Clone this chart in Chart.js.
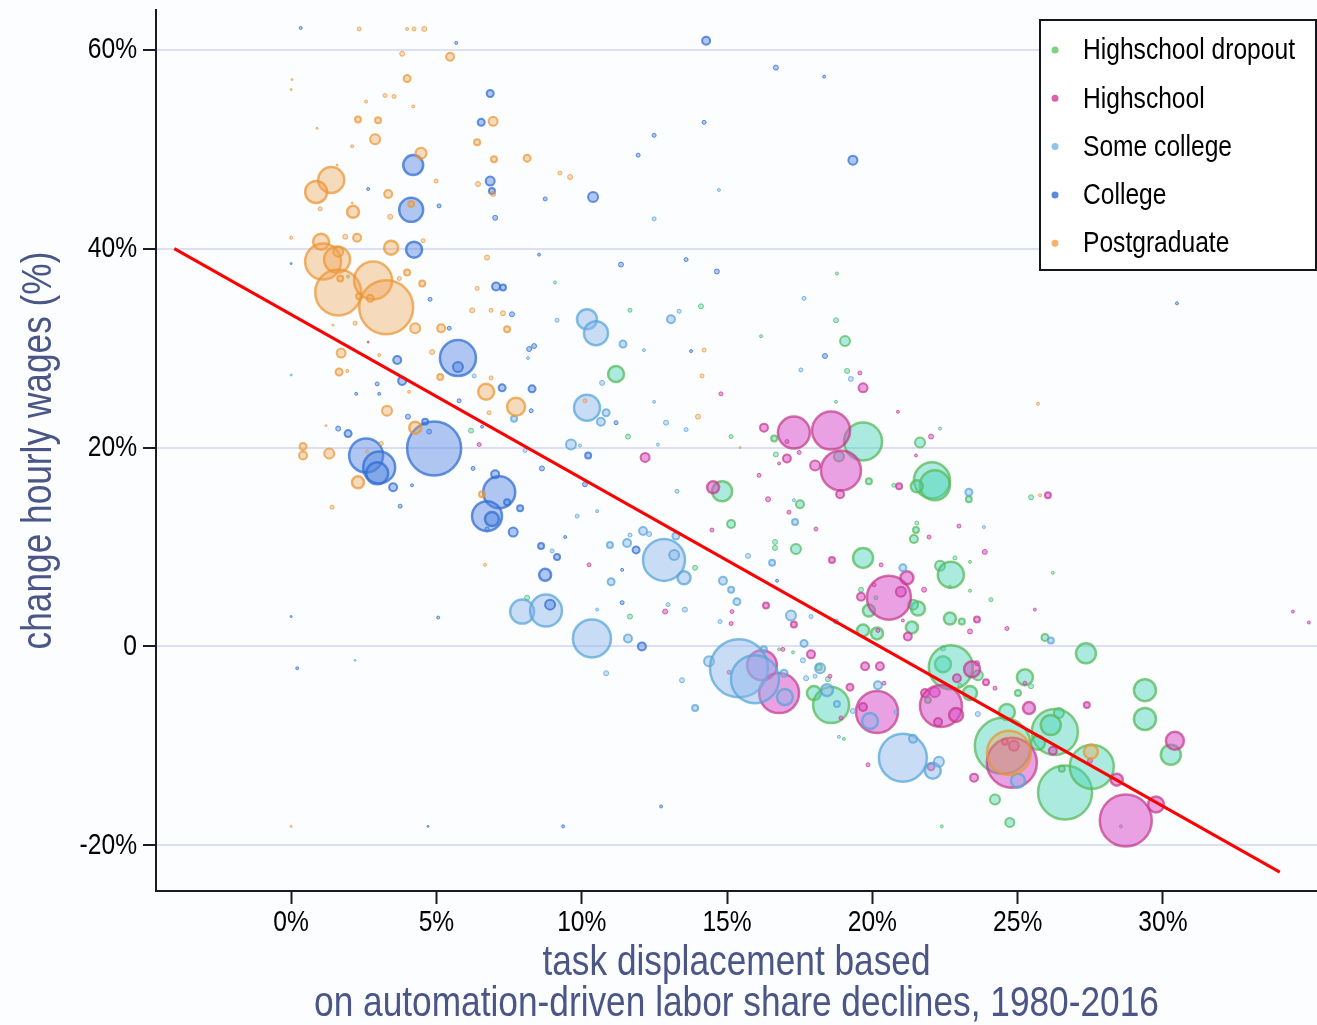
<!DOCTYPE html>
<html>
<head>
<meta charset="utf-8">
<script src="https://cdn.jsdelivr.net/npm/chart.js@4.4.1/dist/chart.umd.min.js"></script>
<style>
  html, body { margin: 0; padding: 0; background: #fbfdff; }
  #wrap { width: 1317px; height: 1025px; position: relative; }
</style>
</head>
<body>
<div id="wrap"><canvas id="c"></canvas></div>
<script>
// ---- tick labels ----
const xTickValues = [0, 5, 10, 15, 20, 25, 30];
const xTickLabels = ['0%', '5%', '10%', '15%', '20%', '25%', '30%'];
const yTickValues = [-20, 0, 20, 40, 60];
const yTickLabels = ['-20%', '0', '20%', '40%', '60%'];

const seriesNames = ['Highschool dropout', 'Highschool', 'Some college', 'College', 'Postgraduate'];

// ---- series values: [x (%), y (%), bubble radius] ----
const dropout = [
 [1.96,37.2,1.5],[9.08,36.6,1.5],[18.78,37.5,1.5],[11.66,33.8,2],[14.10,34.2,2.5],[18.75,32.8,2.5],
 [16.17,31.2,1.5],[19.06,30.7,5],[11.18,27.4,8],[19.13,27.7,2.5],[18.75,24.6,1.5],[6.19,21.7,2.5],
 [11.59,21.1,2.5],[19.68,20.6,19],[16.62,20.9,3],[15.14,21.1,2],[16.68,19.3,2.5],[18.85,19.1,5],
 [19.88,16.6,3],[14.83,15.6,10],[17.51,14.3,4],[15.14,12.3,4],[13.90,7.9,2.5],[16.65,10.5,2.5],
 [16.65,9.9,2.5],[17.37,9.8,5],[19.68,8.9,10],[8.12,4.9,2.5],[11.66,3.0,2.5],[19.61,5.7,2.5],
 [19.88,3.6,6],[19.68,1.6,6],[20.16,1.3,6],[20.12,4.9,2],[21.64,20.5,5],[22.33,21.9,1.5],
 [20.74,16.2,2],[22.05,16.7,18],[22.15,16.2,15],[21.53,16.1,6],[23.32,14.8,3],[25.46,15.0,2.5],
 [21.53,12.4,2],[21.50,11.7,3],[21.43,10.8,4],[26.21,7.4,1.5],[22.33,8.1,5],[22.70,7.2,13],
 [22.84,8.9,2],[23.36,8.5,1.5],[24.08,4.7,2],[22.67,6.0,1.5],[23.36,5.6,1.5],[21.57,3.8,7],
 [21.40,4.2,5],[21.36,1.9,6],[22.67,2.8,6],[23.08,2.5,3],[25.94,0.9,3.5],[27.35,-0.7,10],
 [16.79,-0.3,1.5],[17.27,-0.6,1.5],[18.16,-2.1,3],[18.47,-3.3,2.5],[17.99,-4.7,7],[18.58,-5.9,18],
 [19.02,-9.3,1.5],[22.43,-1.8,8],[22.43,-0.2,2.5],[22.70,-2.1,22],[21.91,-5.4,3],[23.36,-4.7,7],
 [23.63,-2.9,5],[23.01,-3.9,2],[24.63,-6.6,8],[25.01,-4.7,3],[25.25,-3.1,8],[25.46,-4.0,2.5],
 [24.49,-10.0,28],[24.22,-15.4,5],[24.73,-17.7,4.5],[22.39,-18.1,1.5],[26.28,-8.6,23],[26.14,-7.9,10],
 [26.42,-6.7,5],[25.70,-9.7,7],[26.63,-14.7,27],[26.52,-12.3,3],[27.55,-12.1,22],[28.55,-18.1,1.5],
 [29.38,-4.4,11],[29.38,-7.3,11],[30.27,-10.9,10]
];
const highschool = [
 [2.65,30.6,1],[12.18,19.0,4.5],[14.79,25.4,2],[19.68,26.0,4.5],[19.57,27.5,2],[16.27,22.0,4],
 [17.30,21.5,16],[18.58,21.7,19],[17.06,20.6,2],[17.06,18.9,4],[17.48,19.5,2],[16.79,18.4,1.5],
 [18.03,18.2,5],[18.92,17.7,20],[18.89,15.3,4],[16.10,17.2,2],[16.41,14.8,2.5],[14.52,16.0,6],
 [17.13,13.5,2],[18.06,11.8,2],[14.48,11.7,2],[22.02,21.1,2.5],[21.50,19.2,1.5],[20.92,16.1,3],
 [20.88,23.6,1.5],[26.04,15.2,3],[22.98,12.1,2],[21.95,11.0,2],[23.87,9.5,2.5],[18.61,8.7,3],
 [20.30,8.2,2],[21.78,5.7,2.5],[20.57,4.9,22],[21.19,6.9,6.5],[20.98,5.5,5],[20.06,6.2,2],
 [19.61,5.0,4],[20.19,1.6,2],[21.05,2.6,1.5],[21.22,1.0,4],[23.60,2.7,3],[23.36,1.5,2.5],
 [24.63,1.8,2],[25.59,3.7,1.5],[34.47,3.5,1.5],[35.02,2.4,1.5],[10.25,8.2,2],[6.47,20.3,2],
 [16.34,4.1,3],[15.17,3.5,2],[15.14,2.3,2],[12.87,3.5,2.5],[17.30,2.2,3],[15.07,-2.6,2],
 [16.20,-1.9,15],[16.79,-4.7,20],[17.89,-0.8,4],[16.92,-0.3,2],[18.54,-3.0,2],[18.92,-7.2,2],
 [19.23,-4.1,3.5],[19.75,-2.0,4],[20.26,-2.0,4],[20.16,-6.6,21],[19.68,-6.1,4],[20.40,-3.7,2],
 [19.85,-11.9,2],[22.02,-12.1,3.5],[21.81,-4.7,4],[22.15,-4.6,5],[23.43,-2.3,8],[23.60,-1.7,2.5],
 [22.91,-3.2,4],[22.36,-6.0,21],[22.88,-6.9,7],[22.26,-7.6,4],[23.91,-3.6,3],[24.22,-4.2,2],
 [25.39,-6.2,6],[25.25,-3.7,2],[24.80,-11.7,25],[24.87,-10.0,5],[24.56,-9.6,3],[23.50,-13.2,4],
 [26.21,-10.5,4],[27.49,-11.5,2.5],[28.41,-13.4,6],[28.72,-17.5,26],[29.76,-15.9,8],[30.41,-9.5,9],
 [27.38,-5.9,3]
];
const someCollege = [
 [0,27.3,1],[2.20,-1.4,1],[14.72,45.9,1.5],[12.49,43.0,2],[17.65,35.0,2],[13.35,33.7,2],
 [13.07,32.9,4],[9.15,32.8,2],[10.18,32.9,10],[10.49,31.5,12],[8.15,29.0,1.5],[11.42,30.4,3.5],
 [12.14,29.8,1.5],[6.30,27.2,2],[17.54,27.8,2],[19.26,26.9,2.5],[10.70,26.5,2.5],[10.18,24.0,13],
 [10.84,23.5,3.5],[10.66,22.6,4],[7.67,22.9,3],[12.49,24.6,1.5],[12.90,22.5,2.5],[13.59,21.8,2],
 [12.62,20.3,1.5],[8.05,19.7,2],[9.63,20.3,5],[9.94,20.2,1.5],[13.28,15.6,2],[17.30,14.7,1.5],
 [17.34,12.5,3],[9.84,13.1,2],[10.53,13.6,1.5],[12.11,11.6,4],[12.32,11.3,2.5],[11.66,11.2,2],
 [11.56,10.4,4],[10.97,10.2,3],[12.83,8.7,21],[13.18,9.2,5],[13.52,6.9,6.5],[13.24,11.1,3.5],
 [8.98,9.6,2],[11.01,6.5,3.5],[14.86,6.6,4],[15.14,5.7,3],[15.34,4.5,3.5],[15.72,9.1,2.5],
 [16.55,8.4,3],[7.95,3.5,12],[8.77,3.6,16],[10.35,0.8,19],[12.97,4.2,2],[13.55,3.7,2.5],
 [10.53,3.7,1.5],[11.59,0.8,4],[14.76,2.5,2],[17.20,3.1,5],[17.89,3.0,2],[18.75,2.5,2.5],
 [17.65,0.3,3.5],[10.84,-2.7,2.5],[13.45,-3.4,2.5],[13.90,-6.2,3],[14.38,-1.5,5],[15.41,-2.2,29],
 [15.96,-3.3,24],[16.99,-5.1,8],[16.27,-0.3,3],[16.96,-2.7,3.5],[17.61,-1.4,2.5],[18.20,-2.2,5],
 [17.72,-3.2,2.5],[18.03,-3.0,2],[18.44,-4.4,6],[18.78,-5.8,3],[18.85,-9.1,1.5],[19.92,-7.5,8],
 [20.19,-3.9,4],[19.33,-6.5,2.5],[20.81,-6.6,2],[21.05,-11.2,24],[21.40,-9.3,4],[22.08,-12.5,8],
 [22.29,-11.6,5],[21.05,7.9,3.5],[23.32,15.5,3.5],[23.84,12.0,1.5],[23.63,-6.8,2.5],[25.01,-13.5,7],
 [26.14,0.6,3]
];
const college = [
 [0.33,62.2,1.5],[4.20,48.4,10],[2.65,46.0,1.5],[4.13,43.9,12],[5.09,44.3,2],[4.23,39.9,8],
 [0,38.5,1],[4.78,34.9,2],[5.44,32.0,2],[3.65,28.8,4],[3.82,26.7,4],[2.96,26.4,2],
 [2.24,25.4,1.5],[3.03,25.4,1.5],[4.02,23.1,2.5],[1.62,21.9,2.5],[1.96,21.4,3.5],[4.61,22.6,3],
 [4.75,21.6,2.5],[2.58,19.2,17],[3.03,18.0,16],[2.96,17.4,11],[3.51,16.0,4],[4.16,16.2,1.5],
 [3.75,14.1,2],[4.92,19.9,27],[0,3.0,1],[5.06,2.9,1.5],[0.21,-2.2,1.5],[4.71,-18.1,1],
 [5.68,60.7,1.5],[14.28,60.9,4],[16.68,58.2,2.5],[18.34,57.3,1.5],[6.85,55.6,3.5],[6.54,52.7,3.5],
 [14.21,52.7,2],[12.49,51.4,2],[11.94,49.4,2],[19.33,48.9,4.5],[6.85,46.8,4.5],[6.91,45.8,3],
 [8.74,45.0,2],[10.39,45.2,5],[7.02,43.1,2.5],[8.53,39.4,1.5],[13.59,38.9,2],[11.35,38.4,2.5],
 [14.65,37.7,2.5],[7.05,36.2,4],[7.29,36.1,3],[7.60,33.4,2.5],[8.19,29.9,2.5],[8.36,30.2,2.5],
 [13.76,29.7,1.5],[18.37,29.2,2.5],[5.74,29.0,18],[5.74,28.1,5],[7.26,26.0,3.5],[8.29,25.9,3.5],
 [8.26,23.7,2],[5.78,24.7,2],[11.18,22.5,2],[6.57,22.1,1.5],[10.22,19.2,3],[6.26,17.9,2],
 [8.63,17.9,2.5],[7.02,17.3,4],[7.16,15.5,16],[6.74,13.1,15],[6.91,12.8,7],[7.88,13.9,3],
 [7.64,11.5,4.5],[7.43,14.5,3],[6.74,11.8,2],[10.11,16.3,2.5],[9.43,11.0,1.5],[11.87,9.7,3.5],
 [8.60,10.1,3],[9.15,9.0,3],[8.74,7.2,6],[11.39,7.7,1.5],[16.72,6.6,1.5],[8.91,4.2,5],
 [11.39,4.4,2],[12.07,0,4],[12.73,-16.1,1.5],[9.36,-18.1,1.5],[30.48,34.5,1.5]
];
const postgraduate = [
 [2.34,62.1,2],[3.99,62.1,1.5],[4.23,62.1,2],[4.58,62.1,2.5],[3.82,59.6,2.5],[3.99,57.1,3.5],
 [0.03,57.0,1],[0,56.0,1],[2.58,54.8,1.5],[3.23,55.4,2],[3.54,55.3,2],[4.20,54.3,1.5],
 [2.30,53.0,3],[2.99,52.9,3],[0.89,52.1,1],[2.89,51.0,5],[2.10,50.3,1.5],[4.47,49.6,5.5],
 [1.38,46.9,13],[0.86,45.7,11],[1.58,48.4,1],[3.34,45.5,4],[4.99,46.8,2],[4.13,44.5,3],
 [1.0,44.0,2],[2.13,43.7,6],[2.10,44.6,1],[3.41,43.2,2.5],[0,41.1,1.5],[1.03,40.7,8],
 [1.86,41.2,2.5],[2.27,41.1,4],[3.44,40.1,7],[4.54,40.8,2],[1.10,38.7,18],[1.58,38.9,13],
 [1.62,39.7,5],[1.62,35.6,23],[2.82,36.8,19],[3.27,34.1,27],[2.34,35.2,3],[2.72,35.0,3.5],
 [1.69,37.0,3],[3.99,37.6,3],[3.72,37.0,2],[4.51,36.5,3],[4.27,32.0,5],[5.16,32.0,4],
 [1.44,32.3,1],[2.20,32.5,2],[1.72,29.5,4.5],[3.03,29.3,1.5],[4.85,29.6,2.5],[1.65,27.6,3.5],
 [1.93,27.7,1.5],[4.06,25.6,1.5],[3.30,23.7,5],[1.20,22.2,1],[4.27,22.0,6],[3.10,20.4,2],
 [2.61,19.6,1.5],[0.41,20.1,3.5],[0.41,19.2,4],[1.31,19.4,5],[2.30,16.5,6],[1.41,14.0,2],
 [0,-18.1,1],[5.47,59.3,4],[6.95,52.8,4.5],[6.40,50.7,3],[6.98,49.0,3],[8.12,49.1,3.5],
 [9.25,47.6,2],[9.60,47.2,2.5],[6.43,46.5,2.5],[6.95,45.5,2.5],[6.74,39.1,2.5],[6.40,36.0,2],
 [6.23,33.8,2.5],[6.88,33.8,2],[7.29,33.5,2.5],[7.43,31.9,3],[14.21,29.8,2],[5.13,27.1,3],
 [6.88,27.0,2],[14.14,27.2,2],[6.71,25.6,8],[10.11,24.7,2],[7.74,24.1,9],[6.81,23.5,2],
 [14.0,23.1,2.5],[15.45,20.0,1],[6.57,15.3,3],[6.67,8.2,1.5],[25.70,24.4,1.5],[25.77,15.2,1.5],
 [24.70,-10.7,22],[27.52,-10.6,7]
];

// ---- fitted line end points ----
const fitX = [-4.02, 34.02];
const fitY = [40.0, -22.7];

// ---- narrow text rendering (Liberation Sans condensed horizontally, like Arial Narrow) ----
const NARROW = 0.82;
const _fillText = CanvasRenderingContext2D.prototype.fillText;
CanvasRenderingContext2D.prototype.fillText = function (t, x, y, mw) {
  if (this.font && this.font.indexOf('Liberation Sans') >= 0) {
    this.save();
    this.translate(x, y);
    this.scale(NARROW, 1);
    if (mw !== undefined) _fillText.call(this, t, 0, 0, mw / NARROW);
    else _fillText.call(this, t, 0, 0);
    this.restore();
  } else if (mw !== undefined) {
    _fillText.call(this, t, x, y, mw);
  } else {
    _fillText.call(this, t, x, y);
  }
};

// ---- styling ----
const FONT = "'Liberation Sans', Arial, sans-serif";
const styles = [
  { fill: 'rgba(70,210,185,0.45)',  border: 'rgba(90,185,90,0.75)',  legend: 'rgb(125,210,125)' },
  { fill: 'rgba(215,70,200,0.50)',  border: 'rgba(195,55,135,0.70)', legend: 'rgb(215,100,170)' },
  { fill: 'rgba(140,180,235,0.45)', border: 'rgba(85,165,215,0.72)', legend: 'rgb(145,195,230)' },
  { fill: 'rgba(80,130,225,0.45)',  border: 'rgba(50,110,210,0.75)', legend: 'rgb(90,140,220)' },
  { fill: 'rgba(240,160,80,0.38)',  border: 'rgba(235,150,50,0.72)', legend: 'rgb(245,180,105)' }
];
const allSeries = [dropout, highschool, someCollege, college, postgraduate];

const datasets = allSeries.map((arr, i) => ({
  type: 'bubble',
  label: seriesNames[i],
  data: arr.map(p => ({ x: p[0], y: p[1], r: p[2] })),
  backgroundColor: styles[i].fill,
  borderColor: styles[i].border,
  borderWidth: (c) => (!c.raw ? 1 : c.raw.r >= 6 ? 2.5 : c.raw.r >= 3 ? 2 : 1),
  order: 5 - i
}));
datasets.push({
  type: 'line',
  label: 'fit',
  data: fitX.map((x, i) => ({ x: x, y: fitY[i] })),
  borderColor: '#ff0000',
  borderWidth: 3,
  pointRadius: 0,
  fill: false,
  order: 0
});

const legendPlugin = {
  id: 'boxLegend',
  afterDraw(chart) {
    const ctx = chart.ctx;
    const ca = chart.chartArea;
    const w = 276, h = 250;
    const left = ca.right - w - 1, top = ca.top + 10;
    ctx.save();
    ctx.fillStyle = '#ffffff';
    ctx.fillRect(left, top, w, h);
    ctx.lineWidth = 2;
    ctx.strokeStyle = '#15151f';
    ctx.strokeRect(left, top, w, h);
    ctx.font = '30px ' + FONT;
    ctx.textBaseline = 'middle';
    ctx.textAlign = 'left';
    seriesNames.forEach((name, i) => {
      const y = top + 30 + i * 48.3;
      ctx.beginPath();
      ctx.arc(left + 15, y, 3.5, 0, Math.PI * 2);
      ctx.fillStyle = styles[i].legend;
      ctx.fill();
      ctx.fillStyle = '#000000';
      ctx.fillText(name, left + 43, y + 1);
    });
    ctx.restore();
  }
};

new Chart(document.getElementById('c'), {
  type: 'bubble',
  data: { datasets: datasets },
  plugins: [legendPlugin],
  options: {
    responsive: true,
    maintainAspectRatio: false,
    devicePixelRatio: 1,
    animation: false,
    events: [],
    layout: { autoPadding: false, padding: { top: 10, right: 0, left: 0, bottom: 0 } },
    plugins: { legend: { display: false }, tooltip: { enabled: false } },
    scales: {
      x: {
        type: 'linear',
        min: -4.65,
        max: 35.3,
        afterBuildTicks: (s) => { s.ticks = xTickValues.map(v => ({ value: v })); },
        afterFit: (s) => { s.height = 134; s.paddingLeft = 0; s.paddingRight = 0; },
        ticks: {
          callback: (v) => xTickLabels[xTickValues.indexOf(v)],
          font: { family: FONT, size: 30 },
          color: '#000',
          padding: 1,
          maxRotation: 0
        },
        grid: { display: true, drawOnChartArea: false, drawTicks: true, tickLength: 13, tickColor: '#1a1a28', tickWidth: 2 },
        border: { display: true, color: '#1a1a28', width: 2 },
        title: {
          display: true,
          text: ['task displacement based', 'on automation-driven labor share declines, 1980-2016'],
          font: { family: FONT, size: 43, lineHeight: 0.96 },
          color: '#4b5687',
          padding: { top: 0, bottom: 0 }
        }
      },
      y: {
        type: 'linear',
        min: -24.6,
        max: 64.0,
        afterBuildTicks: (s) => { s.ticks = yTickValues.map(v => ({ value: v })); },
        afterFit: (s) => { s.width = 156; s.paddingTop = 0; s.paddingBottom = 0; },
        ticks: {
          callback: (v) => yTickLabels[yTickValues.indexOf(v)],
          font: { family: FONT, size: 30 },
          color: '#000',
          padding: 6
        },
        grid: { display: true, drawOnChartArea: true, drawTicks: true, tickLength: 13, color: '#dcdff6', lineWidth: 2, tickColor: '#1a1a28', tickWidth: 2 },
        border: { display: true, color: '#1a1a28', width: 2 },
        title: {
          display: true,
          text: 'change hourly wages (%)',
          font: { family: FONT, size: 43 },
          color: '#4b5687',
          padding: { top: 13, bottom: 0 }
        }
      }
    }
  }
});
</script>
</body>
</html>
